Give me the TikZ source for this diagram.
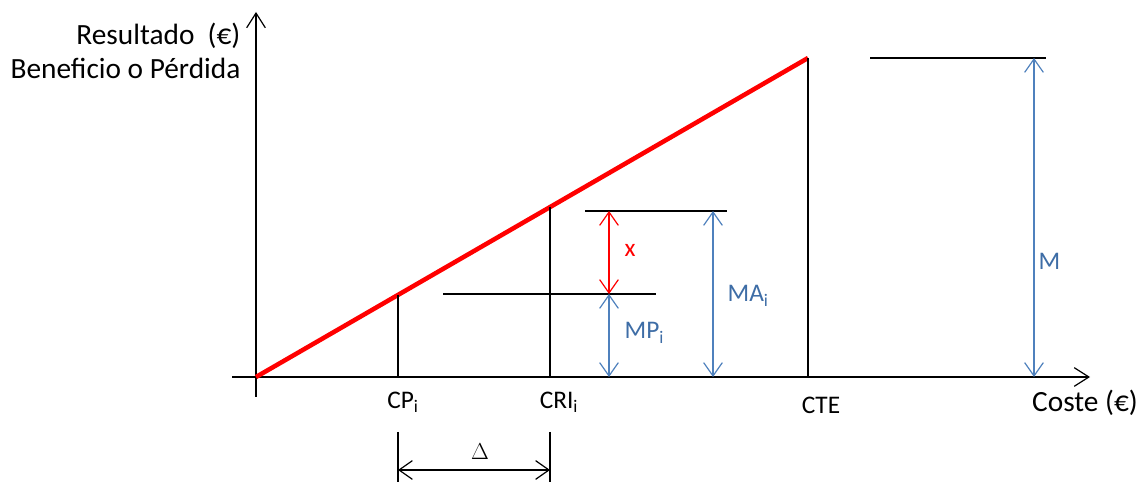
\documentclass[tikz,border=0pt]{standalone}
\usepackage{fontspec}
\setmainfont{Carlito}
\usetikzlibrary{arrows.meta,calc}
\definecolor{lineRed}{HTML}{FF0000}
\definecolor{dimBlue}{HTML}{4F81BD}
\definecolor{dimText}{HTML}{3E6DA6}

\begin{document}
\begin{tikzpicture}[x=0.75pt,y=-0.75pt,line width=0.9pt]
  \tikzset{
    barb/.style={{Straight Barb[length=10pt,width=14pt]}-{Straight Barb[length=10pt,width=14pt]}},
    axis/.style={-{Straight Barb[length=11pt,width=14pt]}},
    ticklabel/.style={font=\fontsize{19}{22}\selectfont,inner sep=0pt},
    title/.style={font=\fontsize{22}{25.5}\selectfont,inner sep=0pt},
    dimlabel/.style={font=\fontsize{19}{22}\selectfont,text=dimText,anchor=west,inner sep=0pt}
  }
  \useasboundingbox (0,0) rectangle (1146,484);

  % ejes
  \coordinate (O) at (256,377);
  \coordinate (ybot) at (256,397);
  \coordinate (ytop) at (256,12);
  \coordinate (xleft) at (232,377);
  \coordinate (xright) at (1090,377);
  \draw[axis] (ybot) -- (ytop);
  \draw[axis] (xleft) -- (xright);
  \node[title,align=right,anchor=east] (ytitle) at (241,51) {Resultado~~(€)\\Beneficio o Pérdida};
  \node[title] (xtitle) at (1085,403) {Coste (€)};

  % recta de resultado
  \coordinate (E) at (808,58);
  \coordinate (P) at ($(O)!{142/552}!(E)$);
  \coordinate (R) at ($(O)!{294/552}!(E)$);
  \draw[lineRed,line width=3.4pt] (O) -- (E);
  \draw (P) -- (P |- O);
  \draw (R) -- (R |- O);
  \draw (E) -- (E |- O);

  \node[ticklabel] (cp) at (403,402) {CP\textsubscript{i}};
  \node[ticklabel] (cri) at (559,402) {CRI\textsubscript{i}};
  \node[ticklabel] (cte) at (821,405) {CTE};

  % niveles
  \coordinate (mpL) at (443,294);
  \coordinate (mpR) at (656,294);
  \coordinate (maL) at (585,211);
  \coordinate (maR) at (727,211);
  \coordinate (mL) at (870,58);
  \coordinate (mR) at (1046,58);
  \draw (mpL) -- (mpR);
  \draw (maL) -- (maR);
  \draw (mL) -- (mR);

  % cotas
  \coordinate (xa) at (609,211);
  \coordinate (xb) at (609,294);
  \draw[barb,lineRed] (xa) -- (xb);
  \draw[barb,dimBlue] (xb) -- (xb |- O);
  \draw[barb,dimBlue] (713,211) -- (713,377);
  \draw[barb,dimBlue] (1034,58) -- (1034,377);
  \node[font=\fontsize{19}{22}\selectfont,text=lineRed,inner sep=0pt] (xlab) at (630,250) {x};
  \node[dimlabel] (mplab) at (624,333) {MP\textsubscript{i}};
  \node[dimlabel] (malab) at (727,296) {MA\textsubscript{i}};
  \node[dimlabel] (mlab) at (1038,261) {M};

  % delta
  \coordinate (d1) at (398,432);
  \coordinate (d2) at (550,432);
  \draw (d1) -- ++(0,50);
  \draw (d2) -- ++(0,50);
  \draw[barb] ($(d1)+(0,38)$) -- ($(d2)+(0,38)$);
  \node[font=\fontsize{19}{22}\selectfont,inner sep=0pt] (dlab) at (480,452) {$\Delta$};
\end{tikzpicture}
\end{document}
